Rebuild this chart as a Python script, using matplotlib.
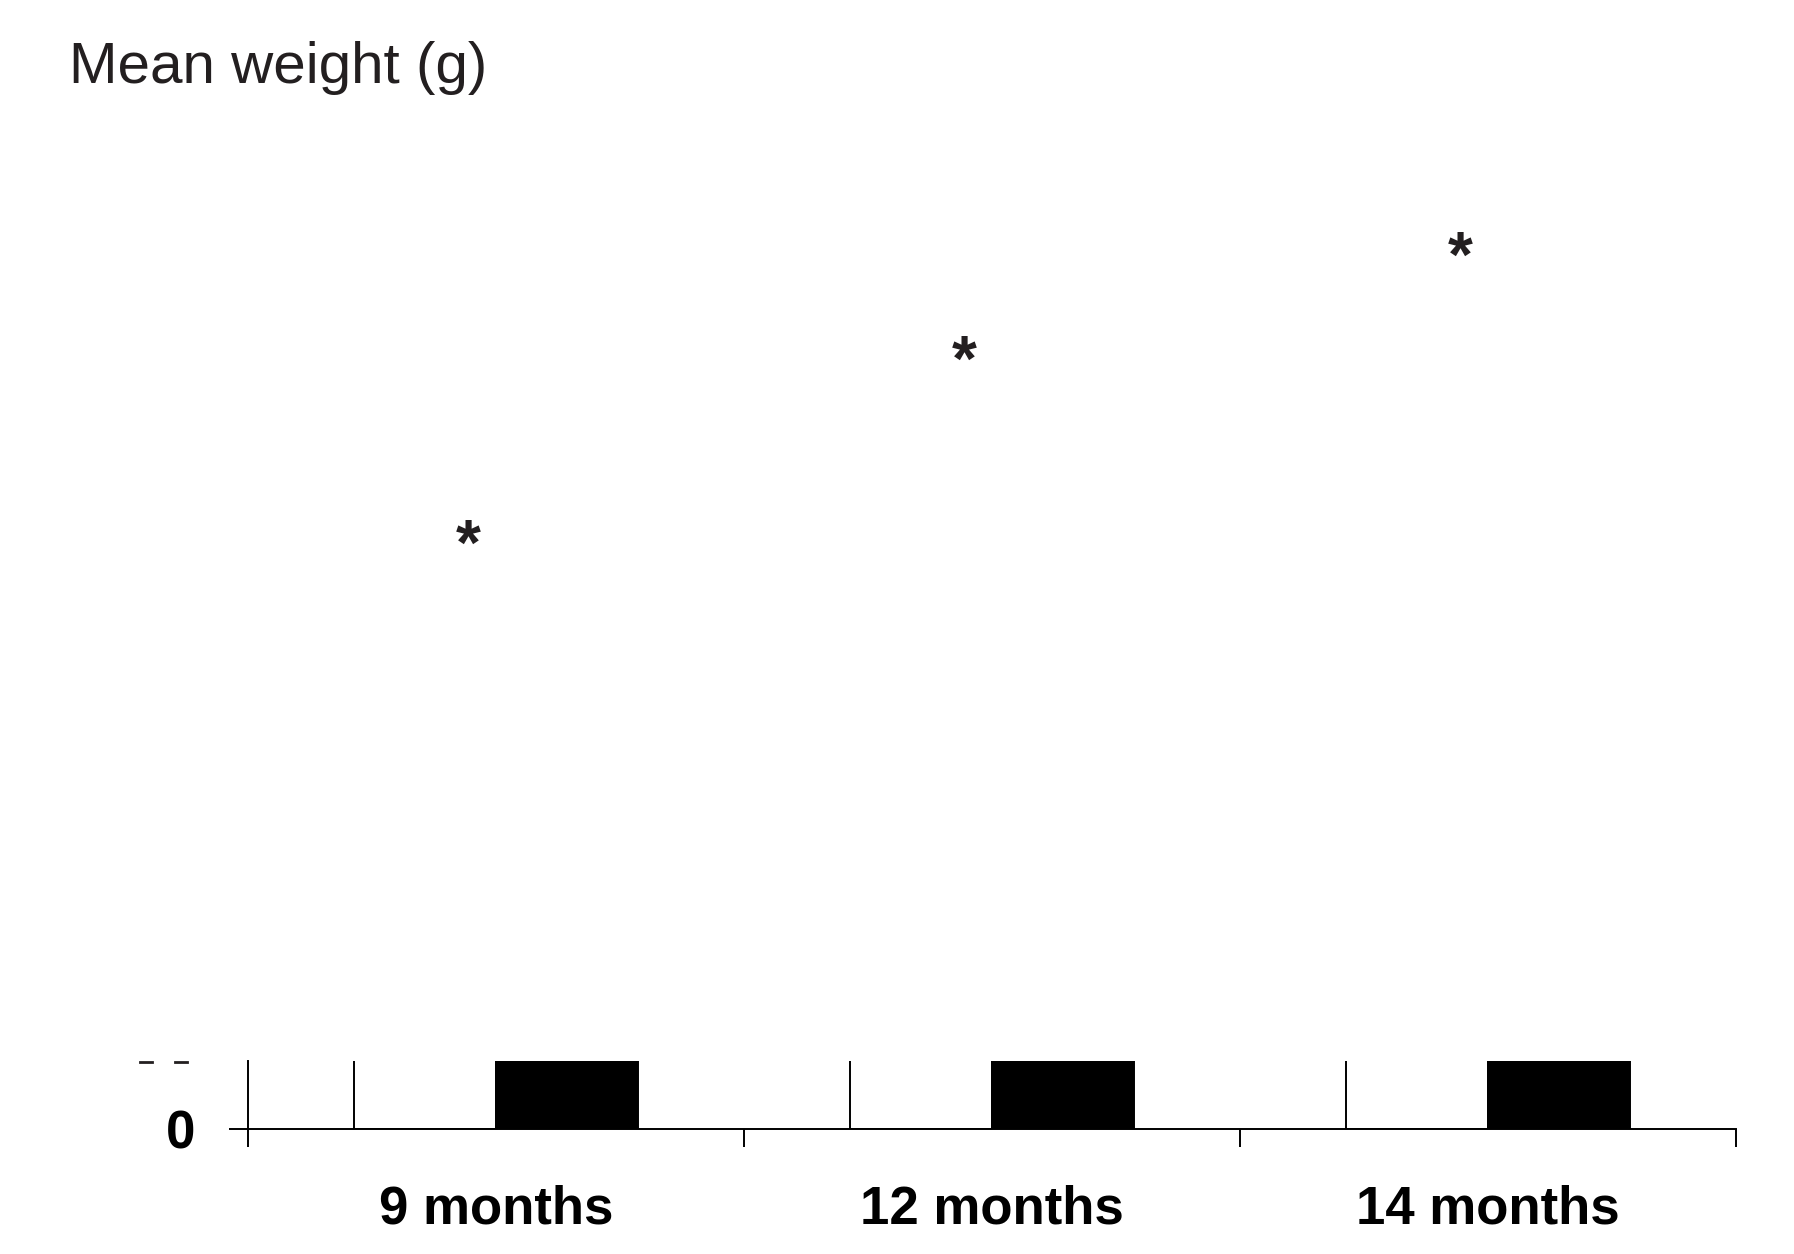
import matplotlib
matplotlib.use('Agg')
import matplotlib.pyplot as plt
import matplotlib.transforms as mtransforms
from matplotlib.lines import Line2D

plt.rcParams['font.family'] = ['Liberation Sans', 'DejaVu Sans']

# data (top of the chart is cut off, bars run past the visible part)
groups = ['9 months', '12 months', '14 months']
white_bars = [30, 36, 40]
black_bars = [32, 38, 43]
star_y = [0.563, 0.710, 0.793]  # asterisk heights, figure fraction
y_visible = 1.0

W, H = 1794, 1254
fig = plt.figure(figsize=(W / 100, H / 100), dpi=100)
ax = fig.add_axes([248 / W, 125 / H, (1736 - 248) / W, (1129 - 1061) / H])

x = list(range(len(groups)))
bw = 0.286
ax.bar([i - bw / 2 for i in x], white_bars, width=bw, color='white',
       edgecolor='black', linewidth=1.4)
ax.bar([i + bw / 2 for i in x], black_bars, width=bw, color='black',
       edgecolor='black', linewidth=1.4)

ax.set_xlim(-0.5, len(groups) - 0.5)
ax.set_ylim(0, y_visible)
for s in ['top', 'right']:
    ax.spines[s].set_visible(False)
for s in ['left', 'bottom']:
    ax.spines[s].set_linewidth(1.4)

# group separators as major ticks, labels on minor ticks
ax.set_xticks([i - 0.5 for i in range(len(groups) + 1)])
ax.set_xticklabels([])
ax.set_xticks(x, minor=True)
ax.set_xticklabels(groups, minor=True, fontsize=38, fontweight='bold')
ax.tick_params(axis='x', which='major', direction='out', length=13, width=1.4)
ax.tick_params(axis='x', which='minor', length=0, pad=40)

ax.set_yticks([0])
ax.set_yticklabels(['0'], fontsize=38, fontweight='bold')
ax.tick_params(axis='y', direction='out', length=14, width=1.4, pad=24)

# asterisks above the (cut-off) bars
trans = mtransforms.blended_transform_factory(ax.transData, fig.transFigure)
for i, sy in enumerate(star_y):
    ax.text(i - 0.055, sy, '*', transform=trans, ha='center', va='center',
            fontsize=46, fontweight='bold', color='#231f20', clip_on=False)

# leftover bits of a cut-off tick label
for x0, x1 in [(140, 152), (175, 187)]:
    fig.add_artist(Line2D([x0 / W, x1 / W], [1 - 1062 / H] * 2,
                          transform=fig.transFigure, color='#231f20', lw=2))

fig.text(69 / W, 1 - 83 / H, 'Mean weight (g)', fontsize=42, color='#231f20',
         ha='left', va='baseline')

fig.savefig('out.png', dpi=100, facecolor='white')
